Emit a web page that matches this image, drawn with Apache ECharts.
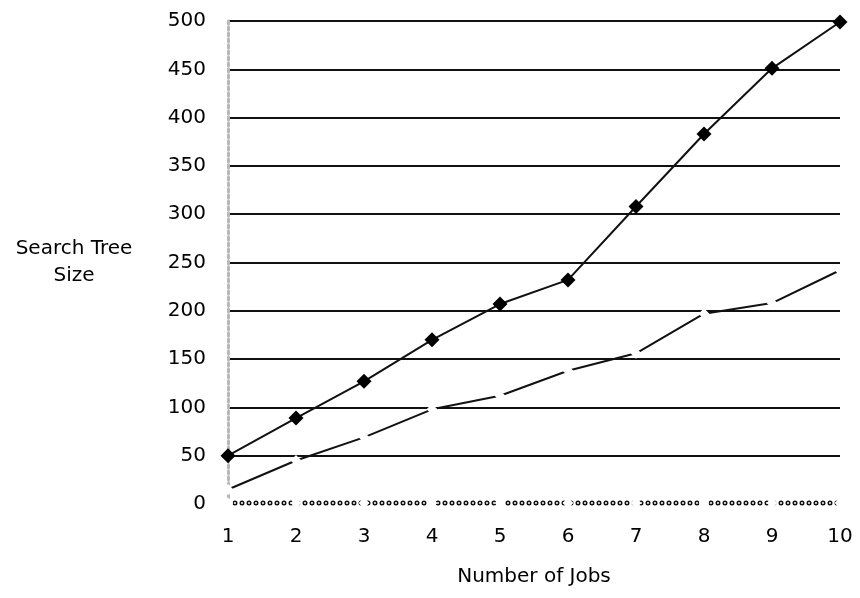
<!DOCTYPE html>
<html>
<head>
<meta charset="utf-8">
<script src="https://cdn.jsdelivr.net/npm/echarts@6/dist/echarts.min.js"></script>
<style>html,body{margin:0;padding:0;background:#fff;}#c{width:860px;height:598px;}</style>
</head>
<body>
<div id="c"></div>
<script>
var categories = ['1','2','3','4','5','6','7','8','9','10'];
var topSeries = [50, 89, 127, 170, 207, 232, 308, 383, 451, 499];
var middleSeries = [15, 45, 69, 98, 112, 138, 156, 197, 208, 242];
var bottomSeries = [1, 1, 1, 1, 1, 1, 1, 1, 1, 1];
var yTicks = {min: 0, max: 500, interval: 50};

var font = 'DejaVu Sans';
var chart = echarts.init(document.getElementById('c'));
chart.setOption({
  backgroundColor: '#fff',
  animation: false,
  grid: {left: 228, right: 20, top: 21, bottom: 94},
  xAxis: {
    type: 'category',
    data: categories,
    boundaryGap: false,
    name: 'Number of Jobs',
    nameLocation: 'middle',
    nameGap: 73,
    nameTextStyle: {fontFamily: font, fontSize: 20, color: '#000', verticalAlign: 'middle'},
    axisLine: {show: false},
    axisTick: {show: false},
    axisLabel: {fontFamily: font, fontSize: 20, color: '#000', margin: 23}
  },
  yAxis: {
    type: 'value',
    min: yTicks.min, max: yTicks.max, interval: yTicks.interval,
    name: 'Search Tree\nSize',
    nameLocation: 'middle',
    nameRotate: 0,
    nameGap: 154,
    nameTextStyle: {fontFamily: font, fontSize: 20, color: '#000', align: 'center', verticalAlign: 'middle', lineHeight: 27, padding: [16, 0, 0, 0]},
    axisLine: {show: true, lineStyle: {color: '#b8b8b8', type: 'dotted', width: 3}},
    axisTick: {show: false},
    axisLabel: {fontFamily: font, fontSize: 20, color: '#000', margin: 22},
    splitLine: {show: true, lineStyle: {color: '#111', width: 2}, showMinLine: false}
  },
  series: [
    {
      type: 'line', data: bottomSeries, symbol: 'none', silent: true,
      lineStyle: {color: '#111', width: 5, type: [0, 7], cap: 'round'}, z: 3
    },
    {
      type: 'line', data: bottomSeries, symbol: 'none', silent: true,
      lineStyle: {color: '#fff', width: 2, type: [0, 7], cap: 'round'}, z: 4
    },
    {
      type: 'line', data: bottomSeries, symbol: 'emptyDiamond', symbolSize: 8, silent: true,
      lineStyle: {width: 0, opacity: 0},
      itemStyle: {color: '#fff', borderColor: '#222', borderWidth: 1}, z: 5
    },
    {
      type: 'line', data: middleSeries, symbol: 'emptyDiamond', symbolSize: 8,
      lineStyle: {color: '#111', width: 2},
      itemStyle: {color: '#fff', borderColor: '#777', borderWidth: 1}, z: 5
    },
    {
      type: 'line', data: topSeries, symbol: 'diamond', symbolSize: 15,
      lineStyle: {color: '#111', width: 2},
      itemStyle: {color: '#000'}, z: 6
    }
  ]
});
</script>
</body>
</html>
